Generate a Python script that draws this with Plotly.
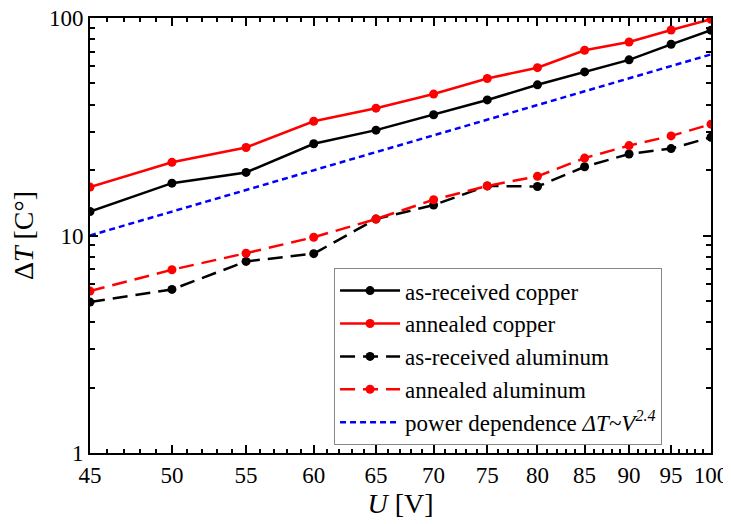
import plotly.graph_objects as go

U = [45, 50, 55, 60, 65, 70, 75, 80, 85, 90, 95, 100]
cu_received = [12.9, 17.4, 19.5, 26.4, 30.5, 35.9, 42.0, 49.3, 56.5, 64.2, 75.7, 87.8]
cu_annealed = [16.7, 21.7, 25.4, 33.5, 38.5, 44.7, 52.7, 59.1, 71.1, 77.6, 88.1, 98.6]
al_received = [4.94, 5.65, 7.6, 8.25, 11.9, 13.8, 16.9, 16.8, 20.7, 23.7, 25.1, 28.3]
al_annealed = [5.55, 6.96, 8.29, 9.82, 11.9, 14.6, 16.9, 18.7, 22.7, 25.9, 28.7, 32.5]
power_law = [10.0, 12.88, 16.19, 19.95, 24.17, 28.88, 34.08, 39.78, 46.01, 52.78, 60.10, 68.0]

x_ticks = [45, 50, 55, 60, 65, 70, 75, 80, 85, 90, 95, 100]
y_ticks = [1, 10, 100]

FONT = "Liberation Serif"

fig = go.Figure()
fig.add_trace(go.Scatter(x=U, y=cu_received, name="as-received copper", mode="lines+markers",
                         line=dict(color="black", width=2.5), marker=dict(size=9, color="black")))
fig.add_trace(go.Scatter(x=U, y=cu_annealed, name="annealed copper", mode="lines+markers",
                         line=dict(color="#ff0000", width=2.5), marker=dict(size=9, color="#ff0000")))
fig.add_trace(go.Scatter(x=U, y=al_received, name="as-received aluminum", mode="lines+markers",
                         line=dict(color="black", width=2.5, dash="15px,8px"), marker=dict(size=9, color="black")))
fig.add_trace(go.Scatter(x=U, y=al_annealed, name="annealed aluminum", mode="lines+markers",
                         line=dict(color="#ff0000", width=2.5, dash="15px,8px"), marker=dict(size=9, color="#ff0000")))
fig.add_trace(go.Scatter(x=U, y=power_law, name="power dependence <i>ΔT~V<sup>2.4</sup></i>", mode="lines",
                         line=dict(color="#0000ff", width=2.5, dash="6px,4px")))

x_minor = [v for v in range(46, 100) if v % 5 != 0]
y_minor = [m * d for d in (1, 10) for m in range(2, 10)]

fig.update_xaxes(type="log", range=[1.6532125, 2.0], tickvals=x_ticks, ticktext=[str(v) for v in x_ticks],
                 ticks="inside", ticklen=8, tickwidth=2, tickcolor="black",
                 showline=True, linecolor="black", linewidth=2, mirror="allticks", showgrid=False,
                 zeroline=False, automargin=False, ticklabeloverflow="allow",
                 minor=dict(tickvals=x_minor, ticks="inside", ticklen=4, tickwidth=1.5, tickcolor="black", showgrid=False),
                 tickfont=dict(family=FONT, size=23, color="black"),
                 title=dict(text="<i>U</i> [V]", font=dict(family=FONT, size=28, color="black"), standoff=6))
fig.update_yaxes(type="log", range=[0, 2], tickvals=y_ticks, ticktext=["1", "10", "100"],
                 ticks="inside", ticklen=8, tickwidth=2, tickcolor="black",
                 showline=True, linecolor="black", linewidth=2, mirror="allticks", showgrid=False,
                 zeroline=False, automargin=False, ticklabeloverflow="allow",
                 minor=dict(tickvals=y_minor, ticks="inside", ticklen=5, tickwidth=1.5, tickcolor="black", showgrid=False),
                 tickfont=dict(family=FONT, size=23, color="black"),
                 title=dict(text="Δ<i>T</i> [C°]", font=dict(family=FONT, size=28, color="black"), standoff=7))

fig.update_layout(
    width=731, height=524,
    margin=dict(l=82, r=28, t=10, b=79, autoexpand=False),
    paper_bgcolor="white", plot_bgcolor="white",
    font=dict(family=FONT, color="black"),
    legend=dict(x=0.393, y=0.425, xanchor="left", yanchor="top",
                bgcolor="white", bordercolor="#888888", borderwidth=1,
                font=dict(family=FONT, size=23, color="black"),
                itemwidth=60, tracegroupgap=0),
    showlegend=True,
)

fig.write_html("out.html")
